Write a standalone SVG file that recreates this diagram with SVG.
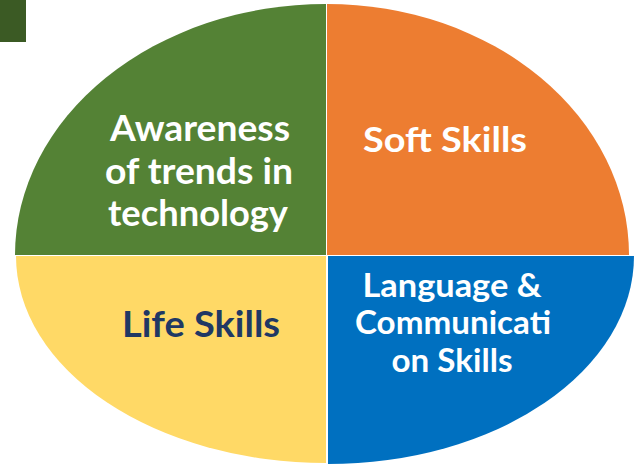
<svg xmlns="http://www.w3.org/2000/svg" width="641" height="468" viewBox="0 0 641 468">
<style>
.t{font-family:Lato,"Open Sans","Liberation Sans",sans-serif;font-weight:bold;text-anchor:middle}
.w{fill:#ffffff}
.d{fill:#203864}
</style>
<rect x="0" y="0" width="26" height="42" fill="#3b5a24"/>
<g id="awareness">
<path d="M326,255 L15,255 A311,251 0 0 1 326,4 Z" fill="#548235"/>
<text class="t w" font-size="36" x="200" y="141" textLength="180" lengthAdjust="spacingAndGlyphs">Awareness</text>
<text class="t w" font-size="36" x="199" y="184" textLength="188" lengthAdjust="spacingAndGlyphs">of trends in</text>
<text class="t w" font-size="36" x="198" y="226" textLength="180" lengthAdjust="spacingAndGlyphs">technology</text>
</g>
<g id="soft-skills">
<path d="M327,255 L327,4 A302,251 0 0 1 629,255 Z" fill="#ed7d31"/>
<text class="t w" font-size="35" x="445" y="152" textLength="164" lengthAdjust="spacingAndGlyphs">Soft Skills</text>
</g>
<g id="language">
<path d="M328,256 L634,256 A306,208 0 0 1 328,464 Z" fill="#0070c0"/>
<text class="t w" font-size="33" x="452" y="297" textLength="179" lengthAdjust="spacingAndGlyphs">Language &amp;</text>
<text class="t w" font-size="33" x="453" y="334" textLength="196" lengthAdjust="spacingAndGlyphs">Communicati</text>
<text class="t w" font-size="33" x="452" y="372" textLength="121" lengthAdjust="spacingAndGlyphs">on Skills</text>
</g>
<g id="life-skills">
<path d="M326,256 L326,463 A310,207 0 0 1 16,256 Z" fill="#ffd966"/>
<text class="t d" font-size="37" x="201" y="337" textLength="158" lengthAdjust="spacingAndGlyphs">Life Skills</text>
</g>
<g id="connectors"></g>
</svg>
